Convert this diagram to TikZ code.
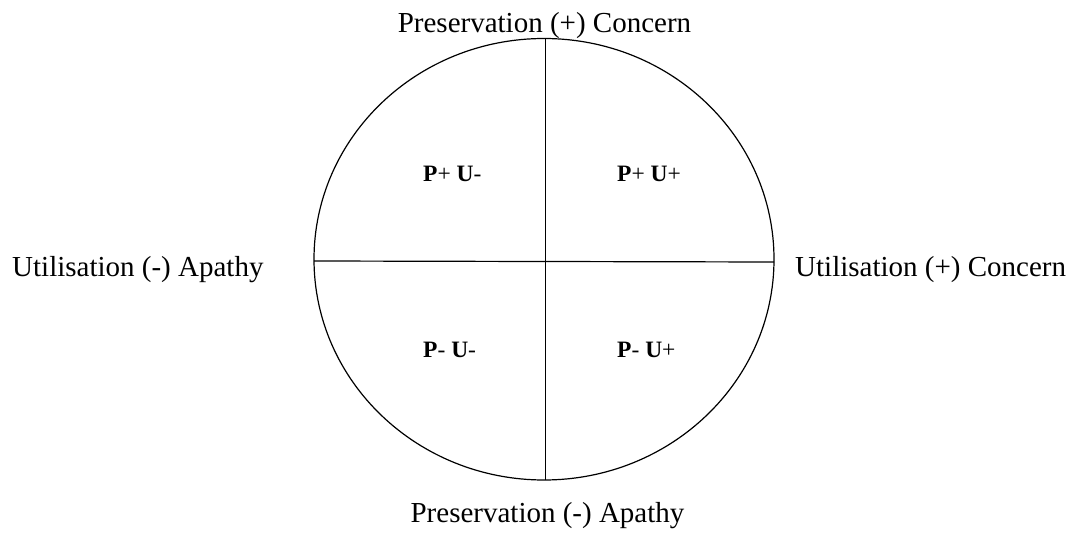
\documentclass[tikz,border=0pt]{standalone}
\usepackage{fontspec}
\setmainfont{Liberation Serif}
\usetikzlibrary{shapes.geometric}
\tikzset{
  axislabel/.style={inner sep=0pt, font=\fontsize{29}{34}\selectfont},
  quadlabel/.style={inner sep=0pt, anchor=base west, font=\fontsize{23.5}{28}\selectfont},
  axisline/.style={line width=1.2pt, black},
}
\begin{document}
\begin{tikzpicture}[x=1pt,y=-1pt]
\useasboundingbox (0,0) rectangle (1075,534);
\node[draw, line width=1.2pt, ellipse, inner sep=0pt, minimum width=460pt, minimum height=441.5pt] (circ) at (544,259.25) {};
\coordinate (top) at (545.7,38.5);
\coordinate (bot) at (545.7,480);
\coordinate (lft) at (314,261);
\coordinate (rgt) at (774,262);
\draw[axisline] (top) -- (bot);
\draw[axisline] (lft) -- (rgt);
\node[axislabel, anchor=base] (ptop) at (544.5,33) {Preservation (+) Concern};
\node[axislabel, anchor=base] (pbot) at (547.5,522) {Preservation (-) Apathy};
\node[axislabel, anchor=base west] (uleft) at (12,277) {Utilisation (-) Apathy};
\node[axislabel, anchor=base west] (uright) at (795,277) {Utilisation (+) Concern};
\node[quadlabel] (q1) at (423,182) {\textbf{P}+ \textbf{U}-};
\node[quadlabel] (q2) at (617,182) {\textbf{P}+ \textbf{U}+};
\node[quadlabel] (q3) at (423,357) {\textbf{P}- \textbf{U}-};
\node[quadlabel] (q4) at (617,357) {\textbf{P}- \textbf{U}+};
\end{tikzpicture}
\end{document}
